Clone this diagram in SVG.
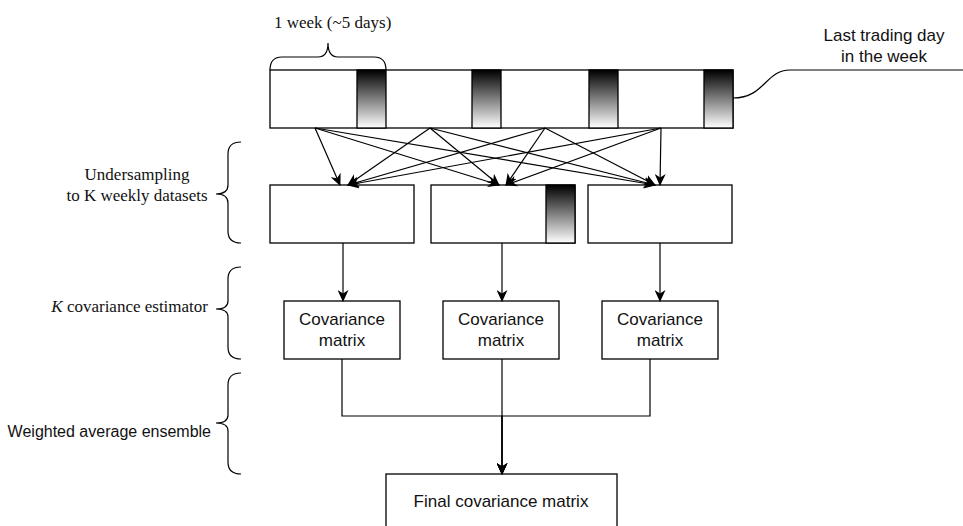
<svg xmlns="http://www.w3.org/2000/svg" width="963" height="526" viewBox="0 0 963 526">
<style>
.box{fill:#fff;stroke:#000;stroke-width:1.3}
.dark{fill:url(#g);stroke:#000;stroke-width:1.3}
.edge{fill:none;stroke:#000;stroke-width:1.2}
.br{fill:none;stroke:#000;stroke-width:1.2}
.sans{font-family:"Liberation Sans",Arial,sans-serif;fill:#111}
.serif{font-family:"Liberation Serif","Times New Roman",serif;fill:#111}
</style>
<defs>
<linearGradient id="g" x1="0" y1="0" x2="0" y2="1">
<stop offset="0" stop-color="#000"/>
<stop offset="1" stop-color="#fff"/>
</linearGradient>
<marker id="ah" markerUnits="userSpaceOnUse" markerWidth="12" markerHeight="11" viewBox="0 0 12 11" refX="11" refY="5.5" orient="auto">
<path d="M0,0 L12,5.5 L0,11 L3.5,5.5 Z" fill="#000"/>
</marker>
</defs>
<rect width="963" height="526" fill="#fff"/>

<g id="week-label">
<text class="serif" x="274" y="28" font-size="17">1 week (~5 days)</text>
<path class="br" d="M270,70 Q270,57 282,57 L318,57 Q328,57 328,43 Q328,57 338,57 L374,57 Q386,57 386,70"/>
</g>

<g id="timeline">
<rect class="box" x="270" y="70" width="463" height="58"/>
<rect class="dark" x="357" y="70" width="29" height="58"/>
<rect class="dark" x="472" y="70" width="29" height="58"/>
<rect class="dark" x="589" y="70" width="29" height="58"/>
<rect class="dark" x="704" y="70" width="29" height="58"/>
</g>

<g id="last-day-label">
<text class="sans" x="884" y="41" font-size="17" text-anchor="middle">Last trading day</text>
<text class="sans" x="884" y="62" font-size="17" text-anchor="middle">in the week</text>
<path class="edge" d="M733,98 C765,98 765,70 790,70 L963,70"/>
</g>

<g id="dataset1"><rect class="box" x="270" y="185" width="144" height="58"/></g>
<g id="dataset2"><rect class="box" x="431" y="185" width="144" height="58"/><rect class="dark" x="546" y="185" width="29" height="58"/></g>
<g id="dataset3"><rect class="box" x="588" y="185" width="144" height="58"/></g>

<g id="cov1"><rect class="box" x="284" y="301" width="116" height="58"/>
<text class="sans" x="342" y="325" font-size="17" text-anchor="middle">Covariance</text>
<text class="sans" x="342" y="346" font-size="17" text-anchor="middle">matrix</text></g>
<g id="cov2"><rect class="box" x="443" y="301" width="116" height="58"/>
<text class="sans" x="501" y="325" font-size="17" text-anchor="middle">Covariance</text>
<text class="sans" x="501" y="346" font-size="17" text-anchor="middle">matrix</text></g>
<g id="cov3"><rect class="box" x="602" y="301" width="116" height="58"/>
<text class="sans" x="660" y="325" font-size="17" text-anchor="middle">Covariance</text>
<text class="sans" x="660" y="346" font-size="17" text-anchor="middle">matrix</text></g>

<g id="final"><rect class="box" x="386" y="474" width="231" height="60"/>
<text class="sans" x="501" y="507" font-size="17" text-anchor="middle">Final covariance matrix</text></g>

<g id="labels">
<text class="serif" x="137" y="180" font-size="17" text-anchor="middle">Undersampling</text>
<text class="serif" x="137" y="201" font-size="17" text-anchor="middle">to K weekly datasets</text>
<path class="br" d="M241,142 Q228,142 228,154 L228,185 Q228,194 216,194 Q228,194 228,203 L228,231 Q228,243 241,243"/>
<text class="serif" x="208" y="312" font-size="17" text-anchor="end"><tspan font-style="italic">K</tspan> covariance estimator</text>
<path class="br" d="M241,267 Q228,267 228,279 L228,301 Q228,309 216,309 Q228,309 228,317 L228,347 Q228,359 241,359"/>
<text class="sans" x="211" y="437" font-size="16" text-anchor="end">Weighted average ensemble</text>
<path class="br" d="M241,373 Q228,373 228,385 L228,415 Q228,423 216,423 Q228,423 228,431 L228,462 Q228,474 241,474"/>
</g>

<g id="connectors">
<line class="edge" x1="315" y1="128" x2="340" y2="185" marker-end="url(#ah)"/>
<line class="edge" x1="315" y1="128" x2="499" y2="185" marker-end="url(#ah)"/>
<line class="edge" x1="315" y1="128" x2="655" y2="185" marker-end="url(#ah)"/>
<line class="edge" x1="430" y1="128" x2="348" y2="185" marker-end="url(#ah)"/>
<line class="edge" x1="430" y1="128" x2="499" y2="185" marker-end="url(#ah)"/>
<line class="edge" x1="430" y1="128" x2="655" y2="185" marker-end="url(#ah)"/>
<line class="edge" x1="545" y1="128" x2="348" y2="185" marker-end="url(#ah)"/>
<line class="edge" x1="545" y1="128" x2="506" y2="185" marker-end="url(#ah)"/>
<line class="edge" x1="545" y1="128" x2="655" y2="185" marker-end="url(#ah)"/>
<line class="edge" x1="661" y1="128" x2="348" y2="185" marker-end="url(#ah)"/>
<line class="edge" x1="661" y1="128" x2="506" y2="185" marker-end="url(#ah)"/>
<line class="edge" x1="661" y1="128" x2="660" y2="185" marker-end="url(#ah)"/>
<line class="edge" x1="343" y1="243" x2="343" y2="301" marker-end="url(#ah)"/>
<line class="edge" x1="502" y1="243" x2="502" y2="301" marker-end="url(#ah)"/>
<line class="edge" x1="660" y1="243" x2="660" y2="301" marker-end="url(#ah)"/>
<path class="edge" d="M342,359 L342,416 L502,416 L502,474" marker-end="url(#ah)"/>
<path class="edge" d="M650,359 L650,416 L502,416 L502,474" marker-end="url(#ah)"/>
<path class="edge" d="M502,359 L502,416" stroke-width="1.2"/>
<path class="edge" d="M502,416 L502,474" stroke-width="2.2" marker-end="url(#ah)"/>
</g>
</svg>
